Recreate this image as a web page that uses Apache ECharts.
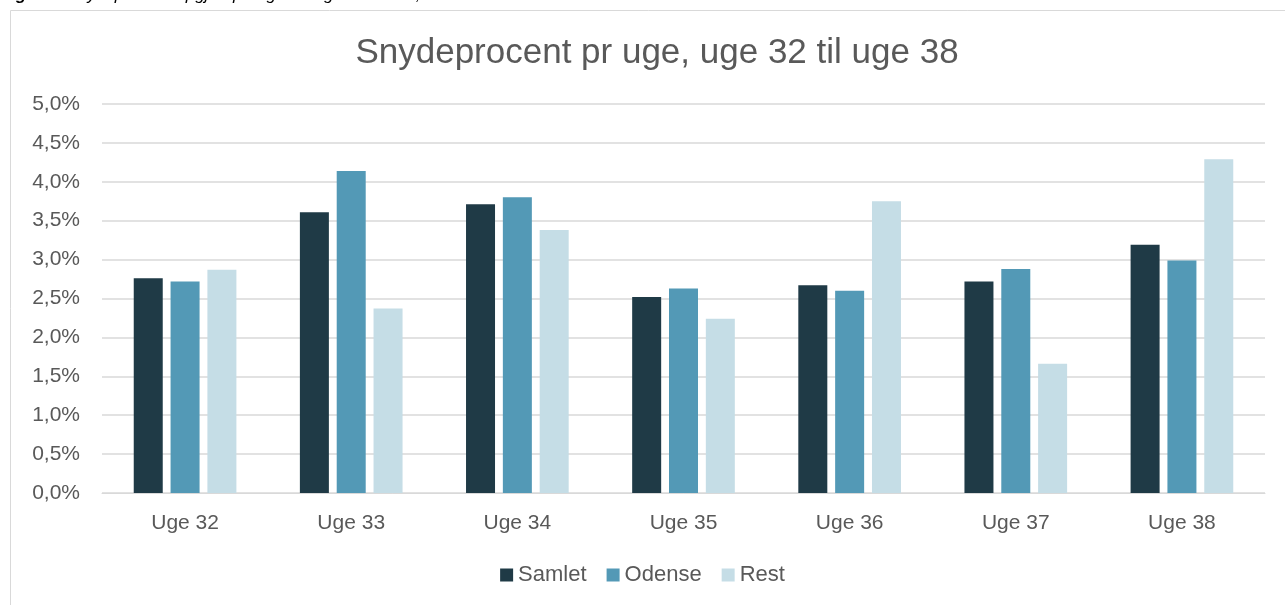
<!DOCTYPE html>
<html>
<head>
<meta charset="utf-8">
<script src="https://cdn.jsdelivr.net/npm/echarts@6/dist/echarts.min.js"></script>
<style>
  html, body { margin: 0; padding: 0; background: #fff; }
  #chart { width: 1285px; height: 605px; }
</style>
</head>
<body>
<div id="chart"></div>
<script>
// uger og snydeprocent
const weeks = ['Uge 32', 'Uge 33', 'Uge 34', 'Uge 35', 'Uge 36', 'Uge 37', 'Uge 38'];
const samlet = [2.76, 3.61, 3.71, 2.52, 2.67, 2.72, 3.19];
const odense = [2.72, 4.14, 3.80, 2.63, 2.60, 2.88, 2.99];
const rest = [2.87, 2.37, 3.38, 2.24, 3.75, 1.66, 4.29];
const seriesNames = ['Samlet', 'Odense', 'Rest'];

const colors = ['#1F3A46', '#5399B6', '#C5DDE6'];
const textColor = '#595959';
const font = 'Liberation Sans, Arial, sans-serif';

const chart = echarts.init(document.getElementById('chart'));

function bar(name, data, color) {
    return {
        name: name,
        type: 'bar',
        data: data,
        barWidth: 29,
        barGap: '27%',
        itemStyle: { color: color },
        emphasis: { disabled: true }
    };
}

let option = {
    animation: false,
    color: colors,
    title: {
        text: 'Snydeprocent pr uge, uge 32 til uge 38',
        left: 652,
        textAlign: 'center',
        top: 31,
        textStyle: {
            fontFamily: font,
            fontSize: 35,
            fontWeight: 'normal',
            color: textColor
        }
    },
    graphic: [
        {
            type: 'rect',
            shape: { x: 10.5, y: 10.5, width: 1290, height: 620 },
            style: { fill: 'none', stroke: '#d9d9d9', lineWidth: 1 },
            silent: true
        },
        {
            type: 'text',
            left: 1,
            top: -13,
            style: {
                rich: {
                    b: { fontFamily: font, fontSize: 17, fontWeight: 'bold', fontStyle: 'italic', fill: '#000' },
                    n: { fontFamily: font, fontSize: 17, fontStyle: 'italic', fill: '#000' }
                },
                text: '{b|Figur 1:} {n|Snydeprocent opgjort pr. uge for ugerne 32-38, 2020}'
            }
        }
    ],
    legend: {
        data: seriesNames,
        bottom: 14,
        left: 'center',
        itemWidth: 13,
        itemHeight: 13,
        itemGap: 20,
        icon: 'rect',
        textStyle: { fontFamily: font, fontSize: 22, color: textColor }
    },
    grid: {
        left: 102,
        right: 20,
        top: 104,
        bottom: 112,
        containLabel: false
    },
    xAxis: {
        type: 'category',
        data: weeks,
        axisLine: { lineStyle: { color: '#d9d9d9', width: 1 } },
        axisTick: { show: false },
        axisLabel: {
            margin: 20,
            fontFamily: font,
            fontSize: 21,
            color: textColor
        }
    },
    yAxis: {
        type: 'value',
        min: 0,
        max: 5,
        interval: 0.5,
        axisLine: { show: false },
        axisTick: { show: false },
        splitLine: { lineStyle: { color: '#d9d9d9', width: 1.5 } },
        axisLabel: {
            margin: 22,
            fontFamily: font,
            fontSize: 21,
            color: textColor,
            formatter: v => v.toFixed(1).replace('.', ',') + '%'
        }
    },
    series: [
        bar(seriesNames[0], samlet, colors[0]),
        bar(seriesNames[1], odense, colors[1]),
        bar(seriesNames[2], rest, colors[2])
    ]
};

chart.setOption(option);
</script>
</body>
</html>
